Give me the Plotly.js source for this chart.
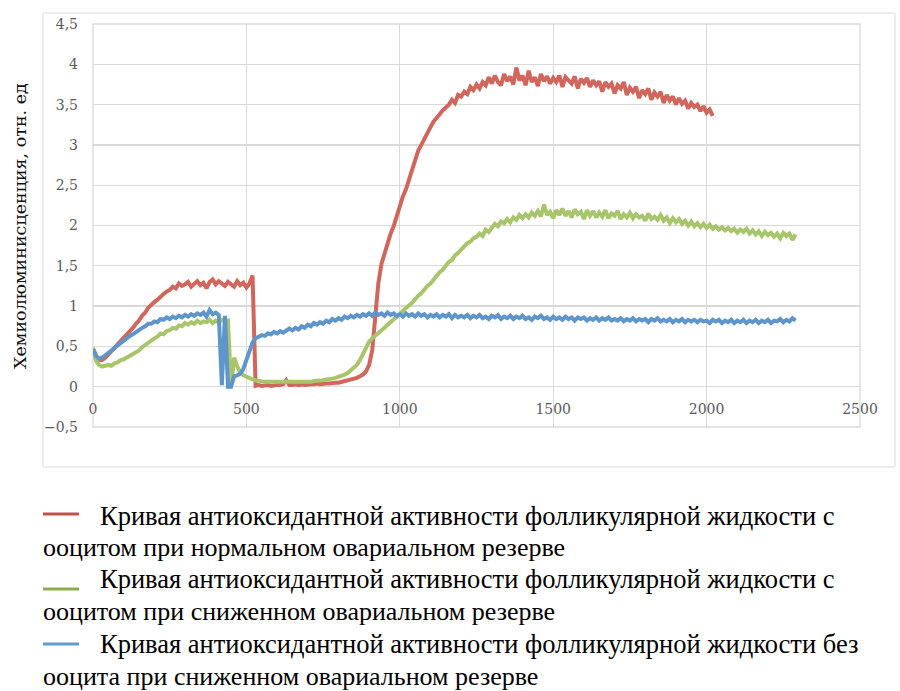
<!DOCTYPE html>
<html>
<head>
<meta charset="utf-8">
<script src="https://cdn.plot.ly/plotly-3.0.1.min.js"></script>
<style>html,body{margin:0;padding:0;background:#fff;}</style>
</head>
<body>
<div id="chart" style="width:900px;height:691px;"></div>
<script>
// Sampling: x starts at 0, one value every 10 units
const xStart = 0;
const xStep = 10;

const seriesNames = [
  'Кривая антиоксидантной активности фолликулярной жидкости с ооцитом при нормальном овариальном резерве',
  'Кривая антиоксидантной активности фолликулярной жидкости с ооцитом при сниженном овариальном резерве',
  'Кривая антиоксидантной активности фолликулярной жидкости без ооцита при сниженном овариальном резерве'
];

const redValues = [
  0.48,0.38,0.33,0.33,0.36,0.40,0.44,0.48,0.52,0.56,
  0.60,0.65,0.68,0.73,0.78,0.82,0.88,0.92,0.98,1.02,
  1.05,1.08,1.12,1.15,1.18,1.20,1.24,1.22,1.28,1.25,
  1.27,1.30,1.24,1.28,1.31,1.26,1.29,1.22,1.30,1.33,
  1.27,1.31,1.28,1.25,1.30,1.27,1.24,1.31,1.26,1.29,
  1.23,1.28,1.38,0.01,0.02,0.01,0.02,0.02,0.01,0.02,
  0.02,0.02,0.03,0.08,0.02,0.02,0.03,0.02,0.03,0.02,
  0.03,0.03,0.03,0.04,0.03,0.04,0.04,0.04,0.05,0.05,
  0.05,0.06,0.06,0.07,0.08,0.09,0.11,0.13,0.15,0.19,
  0.27,0.45,0.85,1.28,1.52,1.66,1.78,1.90,1.99,2.12,
  2.25,2.36,2.45,2.58,2.70,2.82,2.93,3.00,3.08,3.15,
  3.22,3.29,3.33,3.38,3.43,3.47,3.50,3.56,3.52,3.62,
  3.60,3.66,3.63,3.72,3.68,3.75,3.70,3.78,3.74,3.84,
  3.76,3.86,3.78,3.74,3.88,3.79,3.85,3.75,3.96,3.80,
  3.86,3.74,3.92,3.78,3.84,3.73,3.88,3.79,3.85,3.76,
  3.83,3.78,3.86,3.72,3.84,3.80,3.76,3.85,3.70,3.82,
  3.77,3.83,3.72,3.80,3.74,3.79,3.66,3.78,3.72,3.76,
  3.64,3.74,3.70,3.78,3.62,3.71,3.66,3.72,3.58,3.68,
  3.63,3.70,3.56,3.65,3.60,3.66,3.52,3.62,3.55,3.60,
  3.50,3.58,3.51,3.55,3.45,3.52,3.47,3.50,3.42,3.48,
  3.40,3.44,3.36
];

const greenValues = [
  0.48,0.32,0.27,0.25,0.26,0.27,0.26,0.29,0.30,0.33,
  0.34,0.36,0.38,0.41,0.43,0.45,0.49,0.52,0.54,0.58,
  0.60,0.62,0.66,0.65,0.69,0.70,0.73,0.72,0.76,0.75,
  0.79,0.77,0.80,0.78,0.82,0.79,0.81,0.80,0.83,0.79,
  0.82,0.80,0.83,0.81,0.82,0.00,0.36,0.25,0.18,0.14,
  0.12,0.10,0.09,0.08,0.07,0.07,0.06,0.06,0.06,0.05,
  0.05,0.05,0.05,0.05,0.05,0.05,0.05,0.06,0.06,0.06,
  0.06,0.06,0.07,0.07,0.08,0.08,0.09,0.09,0.10,0.11,
  0.12,0.13,0.15,0.17,0.20,0.23,0.27,0.33,0.40,0.48,
  0.56,0.60,0.63,0.66,0.69,0.73,0.77,0.80,0.83,0.86,
  0.90,0.94,0.98,1.01,1.04,1.09,1.13,1.16,1.21,1.25,
  1.28,1.33,1.37,1.42,1.45,1.50,1.55,1.57,1.63,1.66,
  1.70,1.73,1.78,1.80,1.84,1.86,1.90,1.87,1.95,1.92,
  1.98,2.02,1.99,2.05,2.03,2.08,2.04,2.10,2.07,2.13,
  2.09,2.14,2.10,2.16,2.12,2.18,2.11,2.26,2.13,2.17,
  2.09,2.19,2.13,2.21,2.12,2.18,2.10,2.20,2.14,2.17,
  2.08,2.19,2.12,2.18,2.10,2.16,2.11,2.19,2.09,2.15,
  2.12,2.18,2.08,2.14,2.10,2.16,2.09,2.14,2.10,2.12,
  2.06,2.15,2.08,2.11,2.07,2.13,2.06,2.10,2.03,2.09,
  2.04,2.08,2.02,2.06,2.00,2.05,1.99,2.03,1.98,2.02,
  1.97,2.01,1.96,1.99,1.95,1.98,1.94,1.97,1.93,1.96,
  1.91,1.95,1.92,1.96,1.90,1.94,1.89,1.93,1.87,1.92,
  1.88,1.91,1.86,1.90,1.84,1.91,1.87,1.90,1.82,1.89
];

const blueValues = [
  0.46,0.38,0.35,0.36,0.39,0.42,0.45,0.49,0.52,0.55,
  0.58,0.60,0.63,0.65,0.68,0.70,0.73,0.75,0.78,0.78,
  0.81,0.80,0.84,0.83,0.86,0.84,0.87,0.85,0.88,0.86,
  0.89,0.87,0.90,0.88,0.91,0.89,0.92,0.87,0.95,0.90,
  0.92,0.89,0.02,0.88,0.00,0.00,0.13,0.14,0.16,0.22,
  0.33,0.46,0.55,0.60,0.62,0.64,0.63,0.66,0.65,0.68,
  0.66,0.69,0.67,0.70,0.72,0.70,0.73,0.71,0.75,0.73,
  0.77,0.75,0.79,0.77,0.80,0.78,0.82,0.80,0.84,0.82,
  0.85,0.83,0.87,0.85,0.88,0.86,0.89,0.87,0.90,0.88,
  0.91,0.88,0.92,0.89,0.91,0.88,0.92,0.89,0.91,0.88,
  0.90,0.87,0.91,0.88,0.90,0.87,0.91,0.88,0.90,0.86,
  0.89,0.87,0.90,0.86,0.89,0.87,0.90,0.85,0.89,0.86,
  0.88,0.86,0.89,0.85,0.88,0.86,0.89,0.85,0.87,0.84,
  0.88,0.86,0.89,0.84,0.87,0.85,0.88,0.84,0.87,0.85,
  0.88,0.84,0.86,0.83,0.87,0.85,0.88,0.84,0.86,0.83,
  0.87,0.84,0.86,0.83,0.87,0.84,0.86,0.82,0.86,0.84,
  0.86,0.82,0.85,0.83,0.86,0.82,0.85,0.83,0.86,0.82,
  0.84,0.82,0.85,0.81,0.84,0.82,0.85,0.81,0.84,0.82,
  0.84,0.80,0.84,0.82,0.85,0.81,0.83,0.81,0.84,0.80,
  0.83,0.81,0.84,0.80,0.83,0.81,0.83,0.80,0.83,0.81,
  0.82,0.79,0.83,0.81,0.83,0.79,0.82,0.80,0.83,0.79,
  0.82,0.80,0.83,0.79,0.82,0.80,0.83,0.79,0.82,0.80,
  0.83,0.79,0.82,0.81,0.84,0.80,0.83,0.81,0.85,0.82
];

const lineColors = ['#D0665C', '#A9C56B', '#5E96CB'];
const swatchColors = ['#BE524D', '#8EAB4C', '#609AD3'];

const yTitle = 'Хемиолюминисценция, отн. ед';
const legendLines = [
  'Кривая антиоксидантной активности фолликулярной жидкости с',
  'ооцитом при нормальном овариальном резерве',
  'Кривая антиоксидантной активности фолликулярной жидкости с',
  'ооцитом при сниженном овариальном резерве',
  'Кривая антиоксидантной активности фолликулярной жидкости без',
  'ооцита при сниженном овариальном резерве'
];

const allValues = [redValues, greenValues, blueValues];
const traces = allValues.map((vals, i) => ({
  type: 'scatter',
  mode: 'lines',
  name: seriesNames[i],
  x0: xStart,
  dx: xStep,
  y: vals,
  line: {color: lineColors[i], width: 4},
  hoverinfo: 'skip'
}));

// paper coordinate helpers (plot area: left 93, right 860, top 24, bottom 427)
const px = v => (v - 93) / 767;
const py = v => (427 - v) / 403;

const legendFam = 'Liberation Serif';
const axisFam = 'DejaVu Serif';

const shapes = [
  {type: 'rect', xref: 'paper', yref: 'paper', x0: px(43), x1: px(895), y0: py(467), y1: py(13),
   line: {color: '#d9d9d9', width: 1}, layer: 'below'},
  {type: 'rect', xref: 'paper', yref: 'paper', x0: 0, x1: 1, y0: 0, y1: 1,
   line: {color: '#d9d9d9', width: 1.3}, layer: 'below'}
];
const swatchY = [514, 589, 644];
swatchY.forEach((y, i) => {
  shapes.push({type: 'line', xref: 'paper', yref: 'paper', x0: px(43), x1: px(79), y0: py(y), y1: py(y),
    line: {color: swatchColors[i], width: 3}});
});

const legendY = [516, 547, 579, 611, 644, 676];
const annotations = [
  {xref: 'paper', yref: 'paper', x: px(20), y: py(226), text: yTitle, showarrow: false,
   textangle: -90, xanchor: 'center', yanchor: 'middle',
   font: {family: axisFam, size: 17.5, color: '#111'}}
];
legendLines.forEach((t, i) => {
  annotations.push({xref: 'paper', yref: 'paper', x: px(i % 2 === 0 ? 98 : 41), y: py(legendY[i]),
    text: t, showarrow: false, xanchor: 'left', yanchor: 'middle',
    font: {family: legendFam, size: i % 2 === 0 ? 26.5 : 26, color: '#000'}});
});

const tickFont = {family: axisFam, size: 14, color: '#595959'};
const layout = {
  width: 900, height: 691,
  margin: {l: 93, r: 40, t: 24, b: 264},
  paper_bgcolor: '#ffffff', plot_bgcolor: '#ffffff',
  separators: ', ',
  showlegend: false,
  xaxis: {
    range: [0, 2500], tick0: 0, dtick: 500, showgrid: true, gridcolor: '#d9d9d9', gridwidth: 1.3,
    zeroline: false, showline: false, anchor: 'free', position: 0.1, ticks: '',
    ticklabelstandoff: 12, tickfont: tickFont, fixedrange: true
  },
  yaxis: {
    range: [-0.5, 4.5], tick0: 0, dtick: 0.5, showgrid: true, gridcolor: '#d9d9d9', gridwidth: 1.3,
    zeroline: true, zerolinecolor: '#d9d9d9', zerolinewidth: 1.3, showline: false, ticks: '',
    ticklabelstandoff: 14, tickfont: tickFont, fixedrange: true
  },
  shapes: shapes,
  annotations: annotations
};

Plotly.newPlot('chart', traces, layout, {displayModeBar: false, staticPlot: true});
</script>
</body>
</html>
